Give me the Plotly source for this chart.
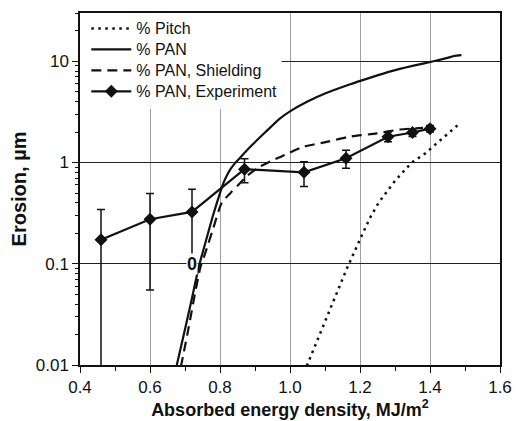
import plotly.graph_objects as go
import math

# Calculated curves
pitch_x = [1.048, 1.10, 1.162, 1.205, 1.229, 1.253, 1.281, 1.30, 1.329, 1.348, 1.386, 1.419, 1.452, 1.481]
pitch_y = [0.0098, 0.027, 0.089, 0.19, 0.286, 0.40, 0.54, 0.66, 0.85, 1.0, 1.23, 1.55, 1.93, 2.37]

pan_x = [0.676, 0.70, 0.72, 0.74, 0.76, 0.78, 0.80, 0.81, 0.82, 0.83, 0.84, 0.86, 0.89, 0.93, 0.97, 1.00,
         1.05, 1.10, 1.17, 1.23, 1.29, 1.35, 1.41, 1.45, 1.47, 1.49]
pan_y = [0.0098, 0.0225, 0.046, 0.095, 0.17, 0.30, 0.50, 0.63, 0.75, 0.86, 0.96, 1.14, 1.47, 2.0, 2.7, 3.2,
         4.0, 4.8, 5.9, 6.9, 8.0, 9.0, 10.0, 10.8, 11.3, 11.5]

shield_x = [0.688, 0.71, 0.73, 0.745, 0.757, 0.78, 0.805, 0.83, 0.852, 0.88, 0.914, 0.95,
            0.976, 1.038, 1.105, 1.171, 1.248, 1.314, 1.38]
shield_y = [0.0095, 0.023, 0.054, 0.095, 0.125, 0.22, 0.40, 0.50, 0.60, 0.75, 0.91, 1.05,
            1.15, 1.43, 1.60, 1.80, 1.94, 2.12, 2.20]

# Experiment
exp_x = [0.46, 0.60, 0.72, 0.87, 1.04, 1.16, 1.28, 1.35, 1.40]
exp_y = [0.173, 0.275, 0.325, 0.86, 0.80, 1.10, 1.80, 1.98, 2.16]
exp_err = [0.170, 0.22, 0.22, 0.23, 0.22, 0.22, 0.20, 0.17, 0.16]

series_names = ["% Pitch", "% PAN", "% PAN, Shielding", "% PAN, Experiment"]

def lg(name):
    return "<span style='font-size:16px'>" + name + "</span>"

black = "#111111"
fig = go.Figure()
fig.add_trace(go.Scatter(x=pitch_x, y=pitch_y, mode="lines", name=lg(series_names[0]),
                         line=dict(color=black, width=2.5, dash="2.5px,4.5px")))
fig.add_trace(go.Scatter(x=pan_x, y=pan_y, mode="lines", name=lg(series_names[1]),
                         line=dict(color=black, width=2.2, shape="spline", smoothing=0.5)))
fig.add_trace(go.Scatter(x=shield_x, y=shield_y, mode="lines", name=lg(series_names[2]),
                         line=dict(color=black, width=2.2, dash="10px,6px", shape="spline", smoothing=0.6)))
fig.add_trace(go.Scatter(x=exp_x, y=exp_y, mode="lines+markers", name=lg(series_names[3]),
                         line=dict(color=black, width=2.2),
                         marker=dict(symbol="diamond", size=10, color=black),
                         error_y=dict(type="data", array=exp_err, symmetric=True,
                                      color=black, thickness=1.5, width=4)))

font = "Liberation Sans, Arial, sans-serif"
fig.update_layout(
    width=517, height=413,
    margin=dict(l=72, r=25, t=3, b=56),
    paper_bgcolor="white", plot_bgcolor="white",
    font=dict(family=font, size=15, color=black),
    showlegend=True,
    legend=dict(x=0.015, y=1.0, xanchor="left", yanchor="top",
                bgcolor="rgba(0,0,0,0)", font=dict(size=13.8, family=font, color=black),
                itemwidth=40, tracegroupgap=0),
    xaxis=dict(range=[0.4, 1.6], dtick=0.2, tick0=0.4, tickformat=".1f",
               showline=True, linecolor=black, linewidth=1.5, mirror=True,
               ticks="outside", ticklen=6, tickwidth=1.2, tickcolor=black,
               minor=dict(ticks="outside", ticklen=4, tickwidth=1.2, tickcolor=black, dtick=0.1, showgrid=False),
               showgrid=True, gridcolor="#a0a0a0", gridwidth=1, zeroline=False,
               title=dict(text="<b>Absorbed energy density, MJ/m<sup>2</sup></b>",
                          font=dict(size=18, family=font), standoff=2),
               tickfont=dict(size=17, family=font)),
    yaxis=dict(type="log", range=[-2, math.log10(30)], dtick=1,
               showline=True, linecolor=black, linewidth=1.5, mirror=True,
               ticks="outside", ticklen=6, tickwidth=1.2, tickcolor=black,
               minor=dict(ticks="outside", ticklen=3, tickwidth=1, tickcolor=black, dtick="D1", showgrid=False),
               showgrid=True, gridcolor="#222222", gridwidth=1, zeroline=False,
               title=dict(text="<b>Erosion, µm</b>", font=dict(size=20, family=font), standoff=6),
               tickfont=dict(size=17, family=font)),
    shapes=[dict(type="rect", xref="x", yref="y", x0=0.4, x1=0.976, y0=3.37, y1=30,
                 fillcolor="white", line=dict(width=0), layer="between")],
    annotations=[dict(x=0.72, y=-1, xref="x", yref="y", text="<b>0</b>", showarrow=False,
                      bgcolor="white", font=dict(size=18, family=font, color=black), borderpad=0)],
)

fig.write_html("out.html")
